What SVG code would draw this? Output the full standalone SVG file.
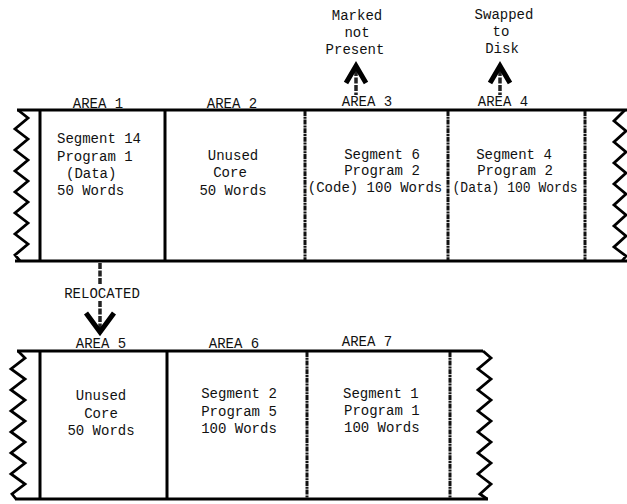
<svg xmlns="http://www.w3.org/2000/svg" width="627" height="504" viewBox="0 0 627 504">
<style>
text{font-family:"Liberation Mono","DejaVu Sans Mono",monospace;font-size:14px;fill:#111}
.m{text-anchor:middle}
.band{stroke:#000;stroke-width:3;fill:none;stroke-linejoin:miter}
.zig{stroke:#000;stroke-width:2.8;fill:none;stroke-linejoin:miter}
.div{stroke:#000;stroke-width:3;fill:none}
.mot{stroke:#111;stroke-width:3;stroke-dasharray:5 0.8 2 0.8;fill:none}
.head{stroke:#000;stroke-width:5;fill:none;stroke-linejoin:miter}
.shaft{stroke:#222;stroke-width:3.5;stroke-dasharray:6 1.5;fill:none}
</style>
<rect width="627" height="504" fill="#fff"/>

<!-- Top memory band -->
<g id="top-band">
<path class="band" d="M17,110 H627 M15,261 H627"/>
<path class="zig" d="M18,110 L28,118 L15,129 L28,139 L15,150 L28,160 L15,171 L28,181 L15,192 L28,202 L15,213 L28,223 L15,234 L28,244 L15,255 L20,261"/>
<path class="zig" d="M625,110 L614,121 L626,131 L614,142 L626,152 L614,163 L626,173 L614,184 L626,194 L614,205 L626,215 L614,226 L626,236 L614,247 L626,256 L622,261"/>
<path class="div" d="M40,111 V260 M165,111 V260"/>
<path class="mot" d="M305,111 V260 M448,111 V260 M585,111 V260"/>
</g>

<g id="area1">
<text class="m" x="98" y="108">AREA 1</text>
<text x="57" y="143">Segment 14</text>
<text x="57" y="161">Program 1</text>
<text x="66" y="178">(Data)</text>
<text x="57" y="195">50 Words</text>
</g>
<g id="area2">
<text class="m" x="232" y="108">AREA 2</text>
<text class="m" x="233" y="160">Unused</text>
<text class="m" x="230" y="177">Core</text>
<text class="m" x="233" y="195">50 Words</text>
</g>
<g id="area3">
<text class="m" x="367" y="106">AREA 3</text>
<text class="m" x="382" y="159">Segment 6</text>
<text class="m" x="382" y="175">Program 2</text>
<text class="m" x="375" y="192">(Code) 100 Words</text>
</g>
<g id="area4">
<text class="m" x="503" y="106">AREA 4</text>
<text class="m" x="514" y="159">Segment 4</text>
<text class="m" x="515" y="175">Program 2</text>
<text class="m" x="515" y="192" textLength="125" lengthAdjust="spacingAndGlyphs">(Data) 100 Words</text>
</g>

<!-- Bottom memory band -->
<g id="bottom-band">
<path class="band" d="M17,351 H483 M15,499 H488"/>
<path class="zig" d="M18,351 L25,358 L11,369 L25,379 L11,390 L25,400 L11,411 L25,421 L11,432 L25,442 L11,453 L25,463 L11,474 L25,484 L12,494 L16,499"/>
<path class="zig" d="M483,351 L491,358 L478,369 L491,379 L478,390 L491,400 L478,411 L491,421 L478,432 L491,442 L478,453 L491,463 L478,474 L491,484 L480,494 L487,499"/>
<path class="div" d="M40,352 V498 M167,352 V498"/>
<path class="mot" d="M307,352 V498 M450,352 V498"/>
</g>

<g id="area5">
<text class="m" x="101" y="348">AREA 5</text>
<text class="m" x="101" y="400">Unused</text>
<text class="m" x="101" y="418">Core</text>
<text class="m" x="101" y="435">50 Words</text>
</g>
<g id="area6">
<text class="m" x="234" y="348">AREA 6</text>
<text class="m" x="239" y="398">Segment 2</text>
<text class="m" x="239" y="416">Program 5</text>
<text class="m" x="239" y="433">100 Words</text>
</g>
<g id="area7">
<text class="m" x="367" y="346">AREA 7</text>
<text x="343" y="398">Segment 1</text>
<text x="344" y="415">Program 1</text>
<text x="344" y="432">100 Words</text>
</g>

<!-- Outside labels -->
<g id="marked-not-present">
<text class="m" x="357" y="20">Marked</text>
<text class="m" x="357" y="37">not</text>
<text class="m" x="355" y="54">Present</text>
</g>
<g id="swapped-to-disk">
<text class="m" x="504" y="19">Swapped</text>
<text class="m" x="501" y="36">to</text>
<text class="m" x="502" y="53">Disk</text>
</g>

<!-- Connectors -->
<g id="connectors">
<path class="shaft" d="M356,70 V95"/>
<path class="head" d="M346,83 L356,66 L366,83"/>
<path class="shaft" d="M500,70 V95"/>
<path class="head" d="M490,83 L500,66 L510,83"/>
<path class="shaft" d="M100,263 V284 M100,301 V330"/>
<text class="m" x="102" y="298">RELOCATED</text>
<path class="head" d="M86,313 L100,332 L114,313"/>
</g>
</svg>
